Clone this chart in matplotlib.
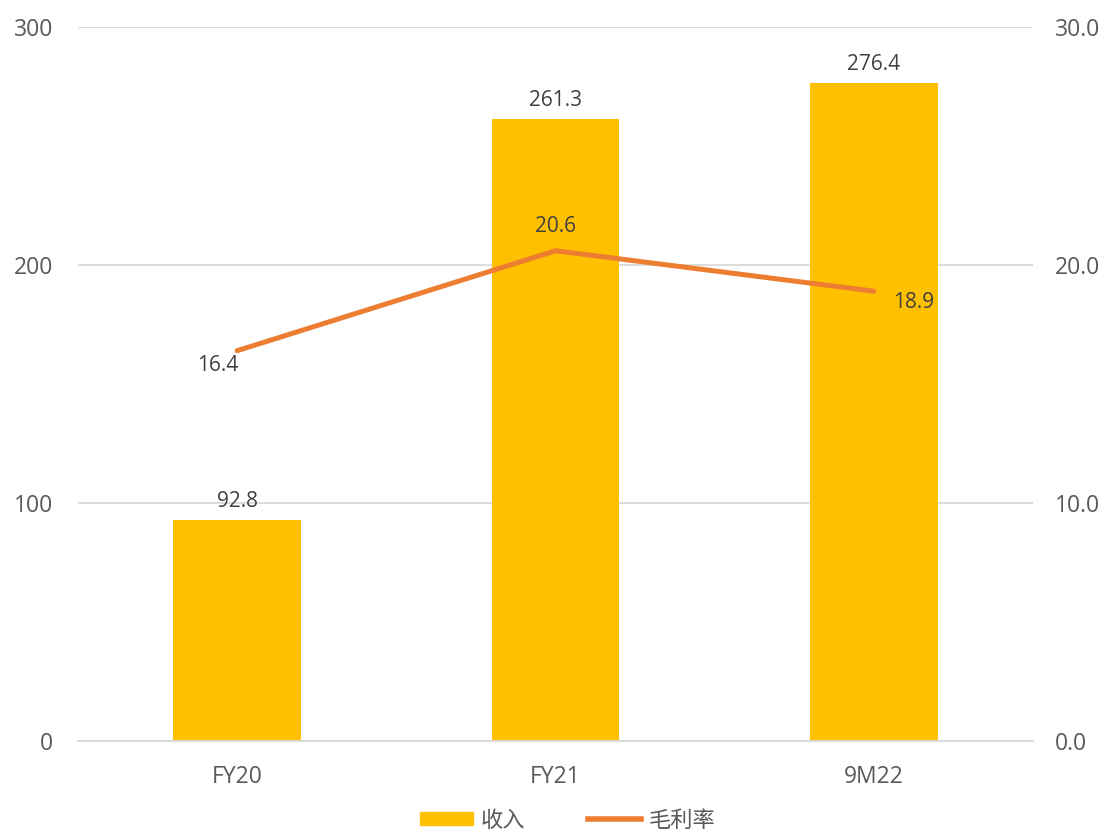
import matplotlib.pyplot as plt
from matplotlib.patches import Patch
from matplotlib.lines import Line2D

plt.rcParams['font.family'] = ['Open Sans', 'Noto Sans CJK SC', 'DejaVu Sans']

categories = ["FY20", "FY21", "9M22"]
revenue = [92.8, 261.3, 276.4]
margin = [16.4, 20.6, 18.9]

bar_color = "#FFC000"
line_color = "#ED7D31"
grid_color = "#D9D9D9"
tick_color = "#595959"
label_color = "#404040"

fig = plt.figure(figsize=(11, 8.34), dpi=100)
ax = fig.add_axes([0.0709, 0.1115, 0.8682, 0.8561])
ax2 = ax.twinx()

x = list(range(len(categories)))
ax.bar(x, revenue, width=0.40, color=bar_color, zorder=2)
ax.set_xlim(-0.5, len(categories) - 0.5)
ax.set_ylim(0, 300)
ax.set_yticks([0, 100, 200, 300])
ax.set_xticks(x)
ax.set_xticklabels(categories)
ax.yaxis.grid(True, color=grid_color, linewidth=1.3, zorder=0)
ax.set_axisbelow(True)
for s in ax.spines.values():
    s.set_visible(False)
ax.spines['bottom'].set_visible(True)
ax.spines['bottom'].set_color(grid_color)
ax.spines['bottom'].set_linewidth(1.3)
ax.tick_params(axis='both', length=0, labelsize=16.5, labelcolor=tick_color)
ax.tick_params(axis='y', pad=18)
ax.tick_params(axis='x', pad=17)

for xi, v in zip(x, revenue):
    ax.annotate(f"{v:.1f}", (xi, v), xytext=(0, 6), textcoords="offset points",
                ha="center", va="bottom", fontsize=15, color=label_color)

ax2.plot(x, margin, color=line_color, linewidth=3.6, solid_capstyle="round", zorder=3)
ax2.set_ylim(0, 30)
ax2.set_yticks([0, 10, 20, 30])
ax2.set_yticklabels([f"{t:.1f}" for t in [0, 10, 20, 30]])
for s in ax2.spines.values():
    s.set_visible(False)
ax2.tick_params(axis='y', length=0, labelsize=16.5, labelcolor=tick_color, pad=16)

offsets = [((-14, -3), "center", "top"), ((0, 10), "center", "bottom"), ((14, -8), "left", "center")]
for xi, v, (off, ha, va) in zip(x, margin, offsets):
    ax2.annotate(f"{v:.1f}", (xi, v), xytext=off, textcoords="offset points",
                 ha=ha, va=va, fontsize=15, color=label_color)

handles = [Patch(color=bar_color), Line2D([0], [0], color=line_color, linewidth=4)]
fig.legend(handles, ["收入", "毛利率"], loc="lower center", bbox_to_anchor=(0.516, -0.013),
           ncol=2, frameon=False, handlelength=2.4, handleheight=0.5, borderpad=0.1,
           columnspacing=2.8, handletextpad=0.36, labelcolor=tick_color,
           prop={'family': ['Noto Sans CJK SC'], 'size': 16})

fig.savefig("out.png", dpi=100)
